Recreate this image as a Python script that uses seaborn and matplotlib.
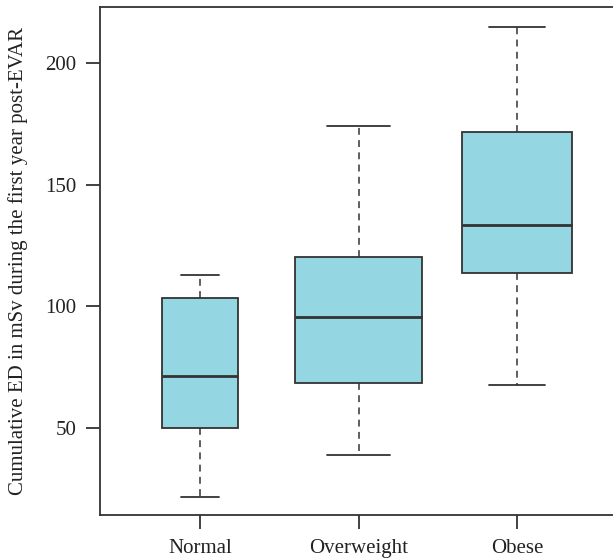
import matplotlib
matplotlib.use("Agg")
import matplotlib.pyplot as plt
import seaborn as sns
import pandas as pd

categories = ["Normal", "Overweight", "Obese"]
# five-number summaries: min, Q1, median, Q3, max
normal_vals = [21.7, 50.0, 71.4, 103.5, 112.9]
overweight_vals = [39.0, 68.5, 95.6, 120.3, 174.1]
obese_vals = [67.7, 113.7, 133.4, 171.7, 214.8]
box_widths = [0.48, 0.80, 0.70]
y_ticks = [50, 100, 150, 200]
y_label = "Cumulative ED in mSv during the first year post-EVAR"

series = [normal_vals, overweight_vals, obese_vals]

sns.set_style("ticks")
plt.rcParams["font.family"] = ["Liberation Serif", "DejaVu Serif"]

W, H = 613, 560
fig = plt.figure(figsize=(W / 100, H / 100), dpi=100)
ax_left, ax_right, ax_top, ax_bottom = 100, 617, 7, 515
ax = fig.add_axes([ax_left / W, 1 - ax_bottom / H, (ax_right - ax_left) / W, (ax_bottom - ax_top) / H])

edge = "#333333"
fill = "#94D6E1"
for cat, vals, w in zip(categories, series, box_widths):
    df = pd.DataFrame({"group": [cat] * len(vals), "value": vals})
    sns.boxplot(data=df, x="group", y="value", order=categories, width=w,
                color=fill, saturation=1, linecolor=edge, linewidth=1.3,
                whis=1.5, showfliers=False, ax=ax,
                whiskerprops={"linestyle": (0, (4.5, 3.5)), "linewidth": 1.1},
                capprops={"linewidth": 1.3},
                medianprops={"linewidth": 2.0, "color": edge},
                boxprops={"edgecolor": edge})

ax.set_xlim(-0.631, 2.631)
ax.set_ylim(14.3, 223)
ax.set_yticks(y_ticks)
ax.set_xlabel("")
ax.set_ylabel(y_label, fontsize=15, color="#222222", labelpad=12)
for s in ax.spines.values():
    s.set_linewidth(1.3)
    s.set_color(edge)
ax.tick_params(axis="both", length=10, width=1.3, color=edge, labelsize=15,
               labelcolor="#222222", pad=7)

fig.savefig("out.png", dpi=100)
